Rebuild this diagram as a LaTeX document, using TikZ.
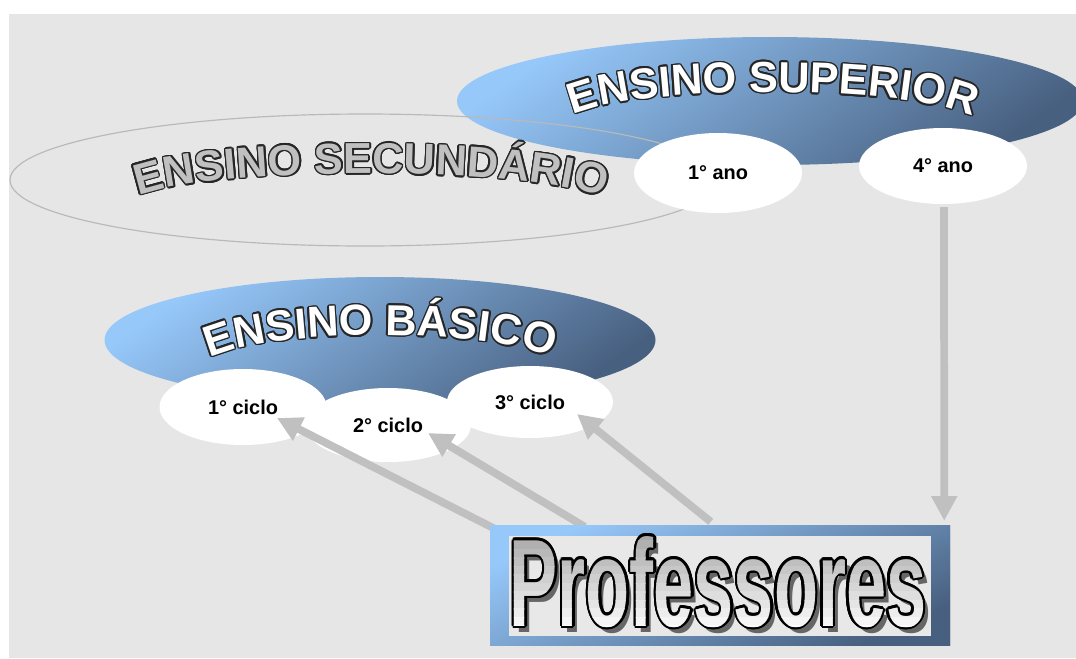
\documentclass[tikz,border=0pt]{standalone}
\usepackage{fontspec}
\setmainfont{Liberation Sans}
\newfontfamily\proffont{Liberation Sans}[UprightFont=* Bold, FakeStretch=0.58]
\usepackage{contour}
\contournumber{16}
\usetikzlibrary{shapes.geometric, arrows.meta, calc, decorations.text}
\definecolor{paper}{RGB}{230,230,230}
\definecolor{blueL}{RGB}{150,200,250}
\definecolor{blueD}{RGB}{72,96,128}
\definecolor{arrowgray}{RGB}{192,192,192}
\definecolor{ringgray}{RGB}{185,185,185}
\definecolor{inkgray}{RGB}{192,192,192}
\definecolor{boxgray}{RGB}{232,232,232}
\newcommand\pxu{0.03cm}
\newcommand\archfont{\fontsize{37}{40}\selectfont\bfseries}
\newcommand\outlineW[1]{\contourlength{1.3pt}\contour{black!85}{#1}}
\tikzset{level/.style={ellipse, inner sep=0, top color=blueL, bottom color=blueD, shading angle=35}}
\tikzset{stage/.style={ellipse, inner sep=0, fill=white, font=\fontsize{17}{20}\selectfont\bfseries}}
\tikzset{feed/.style={draw=arrowgray, line width=6.6pt, -{Triangle[length=21pt, width=21pt]}}}
\tikzset{proftxt/.style={inner sep=0, anchor=base, font=\fontsize{106}{110}\proffont}}
\tikzset{arch/.style n args={2}{decorate, decoration={text effects along path, text={#1}, text align=center,
  text effects/.cd, text along path, characters={inner sep=0, text=#2, font=\archfont}, character command=\outlineW}}}

\begin{document}
\begin{tikzpicture}[x=\pxu, y=-\pxu]
    \useasboundingbox (0,0) rectangle (1076,658);
    \fill[paper] (9,14) rectangle (1076,658);
    % ensino superior
    \node[level, minimum width={626*\pxu}, minimum height={128*\pxu}] (sup) at (770,101) {};
    \node[ellipse, draw=ringgray, line width=1pt, minimum width={710*\pxu}, minimum height={132*\pxu}] (sec) at (365,180) {};
    \node[stage, minimum width={168*\pxu}, minimum height={80*\pxu}] (ano1) at (718,173) {1° ano};
    \node[stage, minimum width={168*\pxu}, minimum height={76*\pxu}] (ano4) at (943,166) {4° ano};
    \path[arch={ENSINO SUPERIOR}{white}] (571,116) .. controls (630,84) and (915,84) .. (975,118);
    \path[arch={ENSINO SECUNDÁRIO}{inkgray}] (133,198) .. controls (200,165) and (542,165) .. (609,200);
    % ensino basico
    \node[level, minimum width={551*\pxu}, minimum height={126*\pxu}] (bas) at (380,340) {};
    \node[stage, minimum width={167*\pxu}, minimum height={76*\pxu}] (c1) at (243,407) {1° ciclo};
    \node[stage, minimum width={166*\pxu}, minimum height={74*\pxu}] (c2) at (388,425) {2° ciclo};
    \node[stage, minimum width={166*\pxu}, minimum height={72*\pxu}] (c3) at (530,402) {3° ciclo};
    \path[arch={ENSINO BÁSICO}{white}] (206,360) .. controls (260,327) and (501,327) .. (555,360);
    % professores
    \node[rectangle, inner sep=0, top color=blueL, bottom color=blueD, shading angle=25,
        minimum width={460*\pxu}, minimum height={120*\pxu}] (prof) at (720,585) {};
    \coordinate (t1) at ($(prof.north west)+(5,4)$);
    \coordinate (t2) at ($(prof.north west)+(95,2)$);
    \coordinate (t3) at ($(prof.north west)+(221,-3)$);
    \coordinate (t4) at ($(prof.north east)+(-6,-4)$);
    \coordinate (h1) at ($(c1)+(34,11)$);
    \coordinate (h2) at ($(c2)+(40,8)$);
    \coordinate (h3) at ($(c3)+(47,12)$);
    \coordinate (s4) at ($(ano4.south)+(1,3)$);
    \draw[feed] (t1) -- (h1);
    \draw[feed] (t2) -- (h2);
    \draw[feed] (t3) -- (h3);
    \draw[feed] (s4) -- (t4);
    \node[rectangle, inner sep=0, top color=blueL, bottom color=blueD, shading angle=25,
        minimum width={460*\pxu}, minimum height={120*\pxu}] at (prof) {};
    \fill[boxgray] (509,536) rectangle (931,636);
    \coordinate (ptxt) at (718,626);
    \node[proftxt, text=black!60] at ($(ptxt)+(5,6)$) {Professores};
    \node[proftxt, text=black] at (ptxt) {\contourlength{2pt}\contour{black}{Professores}};
    \foreach \i in {0,...,11} {
        \pgfmathsetmacro\shade{68-6*\i}
        \begin{scope}
            \clip (509,{532+8.5*\i}) rectangle (931,{541+8.5*\i});
            \node[proftxt, text=gray!\shade!white] at (ptxt) {Professores};
        \end{scope}
    }
\end{tikzpicture}
\end{document}
